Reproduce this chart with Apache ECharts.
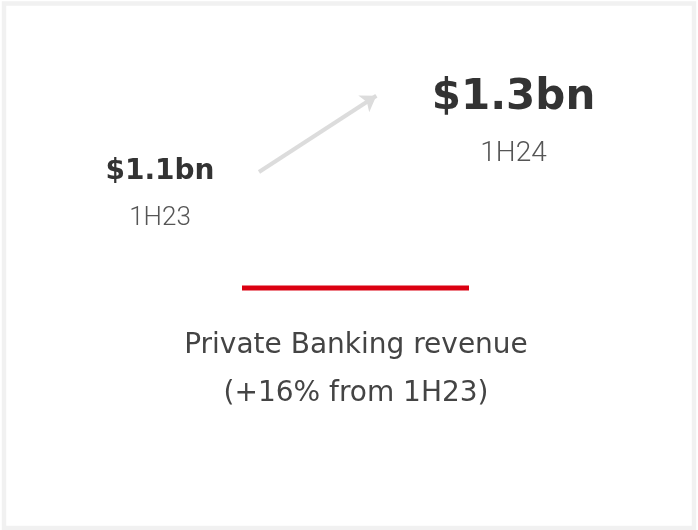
<!DOCTYPE html>
<html lang="en">
<head>
    <meta charset="UTF-8">
    <title>Private Banking revenue</title>
    <script src="https://cdn.jsdelivr.net/npm/echarts@6/dist/echarts.min.js"></script>
    <style>
        html, body { margin: 0; padding: 0; background: #fff; }
    </style>
</head>
<body>

<div id="main" style="width: 698px;height:530px;"></div>

<script type="text/javascript">
    // data
    var periods = ['1H23', '1H24'];
    var revenue = [1.1, 1.3];           // $bn
    var growthPct = 16;                 // as reported
    var metricName = 'Private Banking revenue';

    var myChart = echarts.init(document.getElementById('main'));

    var last = revenue.length - 1;
    var points = revenue.map(function (v, i) { return [i, v]; });

    // value labels, the latest one is emphasised
    var valueData = points.map(function (p, i) {
        return {
            value: p,
            label: { fontSize: i === last ? 42 : 28 }
        };
    });
    var periodData = points.map(function (p, i) {
        return {
            value: p,
            label: { fontSize: i === last ? 28 : 26, offset: [0, i === last ? 56 : 46] }
        };
    });

    var option = {
        animation: false,
        backgroundColor: '#fff',
        grid: { left: 160, top: 61, width: 353.5, height: 148 },
        xAxis: { type: 'value', min: 0, max: 1, show: false },
        yAxis: { type: 'value', min: 1.0, max: 1.4, show: false },
        series: [{
            name: 'value',
            type: 'scatter',
            symbolSize: 0,
            silent: true,
            itemStyle: { opacity: 1 },
            data: valueData,
            label: {
                show: true,
                position: 'inside',
                color: '#333',
                fontFamily: 'DejaVu Sans',
                fontWeight: 'bold',
                formatter: function (p) { return '$' + p.value[1].toFixed(1) + 'bn'; }
            },
            markLine: {
                silent: true,
                symbol: ['none', 'arrow'],
                symbolSize: 15,
                label: { show: false },
                lineStyle: { color: '#dcdcdc', width: 4, type: 'solid', opacity: 1 },
                emphasis: { disabled: true },
                data: [[
                    { coord: [0.28, revenue[0]] },
                    { coord: [0.612, revenue[last] + 0.006] }
                ]]
            }
        }, {
            name: 'period',
            type: 'scatter',
            symbolSize: 0,
            silent: true,
            itemStyle: { opacity: 1 },
            data: periodData,
            label: {
                show: true,
                position: 'inside',
                color: '#555',
                fontFamily: 'Roboto',
                fontWeight: 300,
                formatter: function (p) { return periods[p.value[0]]; }
            }
        }],
        graphic: [{
            type: 'rect',
            silent: true,
            shape: { x: 4, y: 3.5, width: 690, height: 524.5 },
            style: { fill: 'none', stroke: '#f1f1f1', lineWidth: 4.5 }
        }, {
            type: 'rect',
            silent: true,
            shape: { x: 242, y: 285.5, width: 227, height: 5 },
            style: { fill: '#db0011' }
        }, {
            type: 'text',
            silent: true,
            style: {
                x: 356, y: 370,
                text: metricName + '\n(+' + growthPct + '% from ' + periods[0] + ')',
                textAlign: 'center',
                textVerticalAlign: 'middle',
                fontFamily: 'DejaVu Sans',
                fontSize: 28,
                lineHeight: 48,
                fill: '#444'
            }
        }]
    };

    myChart.setOption(option);
</script>
</body>
</html>
